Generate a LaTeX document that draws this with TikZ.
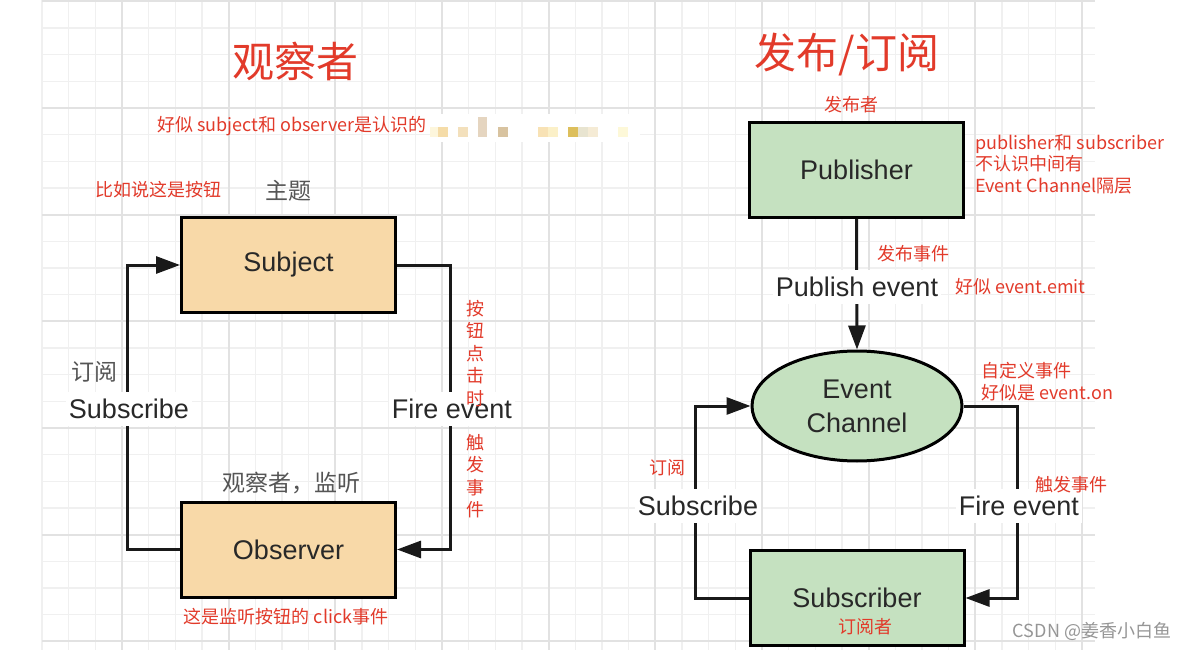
\documentclass[tikz,border=0pt]{standalone}
\usepackage{fontspec}
\setmainfont{Liberation Sans}
\newfontfamily\cjk{Noto Sans CJK SC}
\usetikzlibrary{arrows.meta,shapes.geometric}
\definecolor{myred}{RGB}{226,58,42}
\definecolor{boxorange}{RGB}{248,217,168}
\definecolor{boxgreen}{RGB}{197,225,192}
\definecolor{gridminor}{RGB}{240,240,240}
\definecolor{gridmajor}{RGB}{226,226,226}
\definecolor{labelgrey}{RGB}{85,85,85}
\definecolor{nodetext}{RGB}{40,40,40}
\definecolor{wmgrey}{RGB}{150,150,150}
\begin{document}
\begin{tikzpicture}[x=1pt,y=-1pt,
  box/.style={draw=black,line width=3pt,minimum width=214pt,minimum height=95pt,inner sep=0pt,text=nodetext,font=\fontsize{27}{30}\selectfont},
  oval/.style={ellipse,draw=black,line width=3pt,fill=boxgreen,minimum width=210pt,minimum height=110pt,inner sep=0pt,text=nodetext,align=center,font=\fontsize{27}{34}\selectfont},
  conn/.style={draw=black!90,line width=3pt},
  arr/.style={conn,-{Triangle[length=24pt,width=17pt]}},
  lbl/.style={fill=white,inner xsep=3pt,inner ysep=7pt,text=nodetext,font=\fontsize{27}{30}\selectfont},
  greytxt/.style={text=labelgrey,font=\cjk\fontsize{23}{26}\selectfont,inner sep=0pt},
  redtxt/.style={text=myred,font=\cjk\fontsize{18}{22}\selectfont,inner sep=0pt},
  redvert/.style={text=myred,font=\cjk\fontsize{18}{22.5}\selectfont,align=center,inner sep=0pt},
  titletxt/.style={text=myred,font=\cjk\fontsize{42}{46}\selectfont,inner sep=0pt}
]
\useasboundingbox (0,0) rectangle (1192,650);
\fill[white] (0,0) rectangle (1192,650);
% grid
\foreach \k in {0,...,39} \draw[gridminor,line width=1.5pt] ({42+26.667*\k},0) -- ++(0,650);
\foreach \j in {0,...,24} \draw[gridminor,line width=1.5pt] (42,{1.33+26.667*\j}) -- (1095,{1.33+26.667*\j});
\foreach \k in {0,...,9} \draw[gridmajor,line width=2pt] ({122+106.667*\k},0) -- ++(0,650);
\foreach \j in {0,...,6} \draw[gridmajor,line width=2pt] (42,{1.33+106.667*\j}) -- (1095,{1.33+106.667*\j});
% mosaic
\fill[white] (430,114) rectangle (640,142);
\fill[fill={rgb,255:red,253;green,246;blue,220}] (430,127) rectangle (438,137);
\fill[fill={rgb,255:red,245;green,220;blue,168}] (438,127) rectangle (448,137);
\fill[fill={rgb,255:red,243;green,224;blue,188}] (458,127) rectangle (468,137);
\fill[fill={rgb,255:red,229;green,213;blue,192}] (478,117) rectangle (487,137);
\fill[fill={rgb,255:red,216;green,195;blue,160}] (498,127) rectangle (508,137);
\fill[fill={rgb,255:red,248;green,226;blue,181}] (538,127) rectangle (548,137);
\fill[fill={rgb,255:red,251;green,240;blue,200}] (548,127) rectangle (558,137);
\fill[fill={rgb,255:red,221;green,191;blue,92}] (568,127) rectangle (578,137);
\fill[fill={rgb,255:red,232;green,228;blue,208}] (578,127) rectangle (588,137);
\fill[fill={rgb,255:red,245;green,235;blue,213}] (588,127) rectangle (598,137);
\fill[fill={rgb,255:red,253;green,248;blue,216}] (618,127) rectangle (628,137);

% ---------- left: observer ----------
\node[titletxt] (t1) at (295,61) {观察者};
\node[redtxt,anchor=west] (n1) at (157,126) {好似 subject和 observer是认识的};
\node[redtxt] (n2) at (158.5,190) {比如说这是按钮};
\node[greytxt] (n3) at (288.5,191) {主题};
\node[box,fill=boxorange] (subj) at (288.5,265) {Subject};
\node[box,fill=boxorange] (obs) at (288.5,549.5) {Observer};
\draw[arr] (obs.west) -- (127,549.5) |- (subj.west);
\draw[arr] (subj.east) -- (450,265) |- (obs.east);
\node[lbl] (l1) at (129,409) {Subscribe};
\node[lbl] (l2) at (452,409) {Fire event};
\node[greytxt] (n4) at (94,372) {订阅};
\node[redvert] (n5) at (475,353.5) {按\\钮\\点\\击\\时};
\node[redvert] (n6) at (475,476) {触\\发\\事\\件};
\node[greytxt] (n7) at (291.5,483) {观察者，监听};
\node[redtxt] (n8) at (286,617) {这是监听按钮的 click事件};

% ---------- right: publish/subscribe ----------
\node[titletxt] (t2) at (847,55) {发布/订阅};
\node[redtxt] (m1) at (851,105) {发布者};
\node[box,fill=boxgreen] (pub) at (856.5,170) {Publisher};
\node[redtxt,anchor=north west,align=left,font=\cjk\fontsize{18}{21.5}\selectfont] (m2) at (975,134) {publisher和 subscriber\\不认识中间有\\Event Channel隔层};
\node[oval] (ec) at (857,406) {Event\\Channel};
\node[box,fill=boxgreen] (sub) at (857,598) {Subscriber};
\draw[arr] (pub.south) -- (ec.north);
\draw[arr] (sub.west) -- (695,598) |- (ec.west);
\draw[arr] (ec.east) -- (1017,406) |- (sub.east);
\node[lbl] (l3) at (857,287) {Publish event};
\node[lbl] (l4) at (698,506) {Subscribe};
\node[lbl] (l5) at (1019,506) {Fire event};
\node[redtxt] (m3) at (913,254) {发布事件};
\node[redtxt,anchor=west] (m4) at (955,287) {好似 event.emit};
\node[redtxt,anchor=north west,align=left,font=\cjk\fontsize{18}{22}\selectfont] (m5) at (981,362) {自定义事件\\好似是 event.on};
\node[redtxt] (m6) at (667,468) {订阅};
\node[redtxt] (m7) at (1071,485) {触发事件};
\node[redtxt] (m8) at (865,627) {订阅者};
\node[text=wmgrey,font=\cjk\fontsize{18}{20}\selectfont,inner sep=0pt] (wm) at (1092,631) {CSDN @姜香小白鱼};
\end{tikzpicture}
\end{document}
